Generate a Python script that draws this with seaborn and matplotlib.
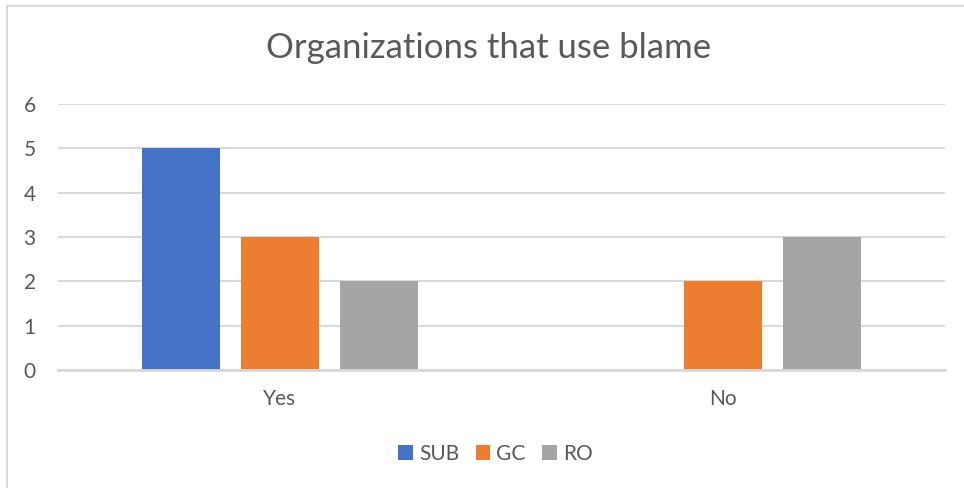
import matplotlib
matplotlib.use("Agg")
import matplotlib.pyplot as plt
import seaborn as sns
import pandas as pd
from matplotlib.patches import Rectangle

# Survey answers per organization group
answers = ["Yes", "No"]
groups = ["SUB", "GC", "RO"]
sub_counts = [5, 0]
gc_counts = [3, 2]
ro_counts = [2, 3]

palette = {"SUB": "#4472C4", "GC": "#ED7D31", "RO": "#A5A5A5"}
text_color = "#595959"
grid_color = "#D9D9D9"

rows = []
for g, vals in zip(groups, [sub_counts, gc_counts, ro_counts]):
    for a, v in zip(answers, vals):
        rows.append({"answer": a, "group": g, "count": v})
df = pd.DataFrame(rows)

sns.set_theme(style="white")
plt.rcParams["font.family"] = ["Lato", "DejaVu Sans"]

fig = plt.figure(figsize=(9.64, 4.88), dpi=100)
ax = fig.add_axes([58 / 964, 1 - 370 / 488, (945 - 58) / 964, (370 - 104) / 488])

sns.barplot(data=df, x="answer", y="count", hue="group", order=answers,
            hue_order=groups, palette=palette, width=0.67, gap=0.21,
            saturation=1, linewidth=0, edgecolor="none", ax=ax, legend=True)

ax.set_ylim(0, 6)
ax.set_xlim(-0.5, 1.5)
ax.set_yticks(range(0, 7))
ax.yaxis.grid(True, color=grid_color, linewidth=1.5)
ax.set_axisbelow(True)
for s in ["top", "right", "left"]:
    ax.spines[s].set_visible(False)
ax.spines["bottom"].set_color(grid_color)
ax.spines["bottom"].set_linewidth(2)
ax.tick_params(axis="both", length=0, labelsize=15, colors=text_color)
ax.tick_params(axis="y", pad=16)
ax.tick_params(axis="x", pad=14)
ax.set_xlabel("")
ax.set_ylabel("")

fig.text(489 / 964, 1 - 48 / 488, "Organizations that use blame", ha="center",
         va="center", fontsize=25, color=text_color)

handles, labels = ax.get_legend_handles_labels()
ax.legend_.remove()
fig.legend(handles, labels, loc="center", bbox_to_anchor=(0.514, 1 - 454 / 488),
           ncol=3, frameon=False, fontsize=15, labelcolor=text_color,
           handlelength=0.7, handleheight=0.7, handletextpad=0.3,
           columnspacing=0.8)

# Chart frame
fig.patches.append(Rectangle((7 / 964, -0.05), 1.2, 1 - 6 / 488 + 0.05,
                             transform=fig.transFigure, fill=False,
                             edgecolor="#D9D9D9", linewidth=1.5))

fig.savefig("out.png", dpi=100, facecolor="white")
